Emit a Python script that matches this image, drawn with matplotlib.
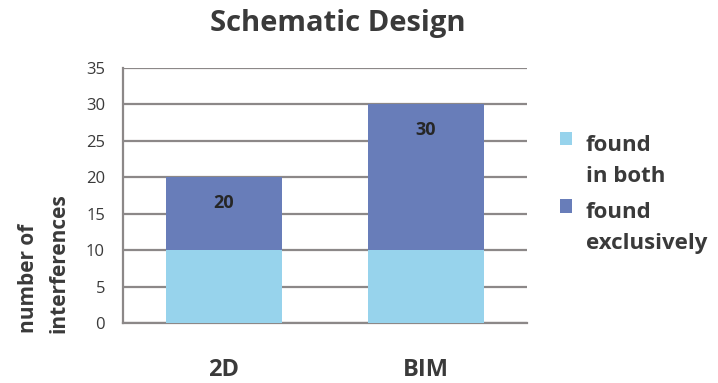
import matplotlib
matplotlib.use("Agg")
import matplotlib.pyplot as plt
from matplotlib.patches import Rectangle
from matplotlib.container import BarContainer
from matplotlib.legend_handler import HandlerPatch, update_from_first_child
import numpy as np

categories = ["2D", "BIM"]
found_in_both = [10, 10]
found_exclusively = [10, 20]
totals = [20, 30]
series_labels = ["found\nin both", "found\nexclusively"]
y_ticks = [0, 5, 10, 15, 20, 25, 30, 35]

plt.rcParams['font.family'] = ['Open Sans', 'DejaVu Sans']
txt = '#3a3a3a'
grid_c = '#8c8888'
c_light = '#97D3EC'
c_dark = '#687DB9'

fig = plt.figure(figsize=(7.18, 3.83), dpi=100)
ax = fig.add_axes([123/718, 1-323/383, (527-123)/718, (323-68)/383])

x = np.arange(len(categories))
b1 = ax.bar(x, found_in_both, width=0.57, color=c_light, label=series_labels[0], zorder=3)
b2 = ax.bar(x, found_exclusively, width=0.57, bottom=found_in_both, color=c_dark,
            label=series_labels[1], zorder=3)
ax.bar_label(b2, labels=[str(t) for t in totals], label_type='edge', padding=-25,
             fontsize=13, fontweight='bold', color='#262626')

ax.set_xlim(-0.5, 1.5)
ax.set_ylim(0, 35)
ax.set_yticks(y_ticks)
ax.set_xticks(x)
ax.set_xticklabels(categories, fontsize=17, fontweight='bold', color=txt)
ax.tick_params(axis='x', length=0, pad=25)
ax.tick_params(axis='y', length=0, pad=13, labelsize=12, labelcolor=txt)
ax.yaxis.grid(True, color=grid_c, linewidth=1.6, zorder=0)
ax.set_axisbelow(True)
for s in ['top', 'right']:
    ax.spines[s].set_visible(False)
for s in ['left', 'bottom']:
    ax.spines[s].set_color(grid_c)
    ax.spines[s].set_linewidth(1.6)

ax.set_ylabel("number of\ninterferences", fontsize=15, fontweight='bold', color=txt,
              linespacing=1.6, loc='bottom', multialignment='left')
ax.yaxis.set_label_coords((70-123)/404, (323-333)/255)

fig.text(338/718, 1-24/383, "Schematic Design", ha='center', va='center',
         fontsize=21, fontweight='bold', color=txt)

leg_fs = 16
def square_first_line(legend, orig_handle, xdescent, ydescent, width, height, fontsize):
    return Rectangle((-xdescent, -ydescent + 16), width, height)

leg = ax.legend(loc='upper left', bbox_to_anchor=(560/718, 1-135/383),
                bbox_transform=fig.transFigure, frameon=False,
                prop={'size': leg_fs, 'weight': 'bold'}, labelcolor=txt,
                handlelength=0.55, handleheight=0.55, handletextpad=0.6,
                labelspacing=0.7, borderpad=0, borderaxespad=0,
                handler_map={BarContainer: HandlerPatch(patch_func=square_first_line,
                                                        update_func=update_from_first_child)})
for t in leg.get_texts():
    t.set_linespacing(1.6)

fig.savefig("out.png", dpi=100)
